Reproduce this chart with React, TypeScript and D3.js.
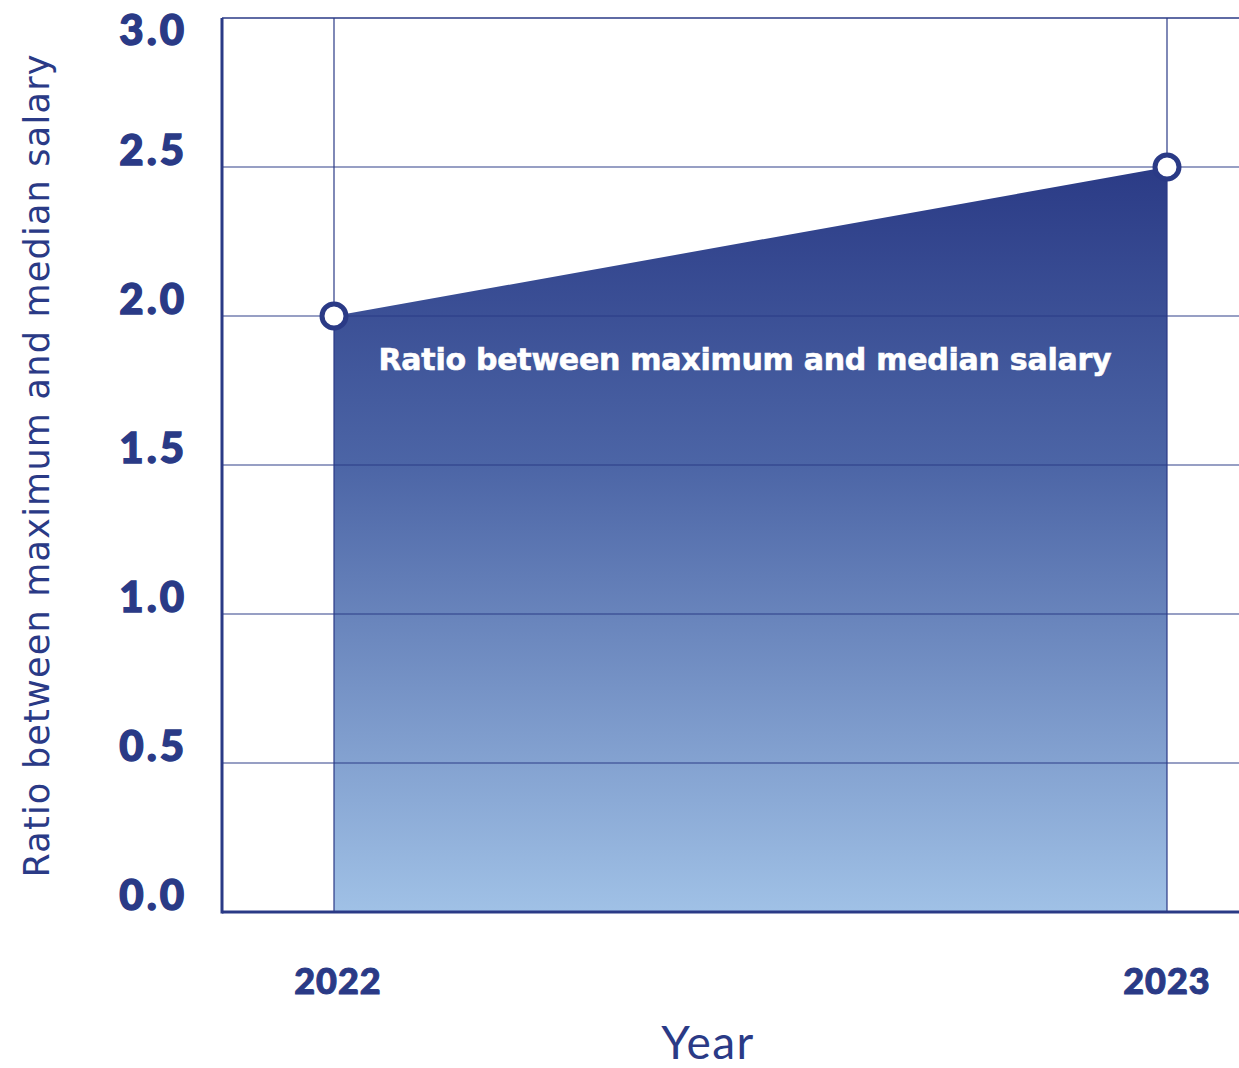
import React from "react";
import * as d3 from "d3";

const years = ["2022", "2023"];
const ratios = [2.0, 2.5];
const yTicks = [0, 0.5, 1.0, 1.5, 2.0, 2.5, 3.0];
const seriesLabel = "Ratio between maximum and median salary";
const yTitle = "Ratio between maximum and median salary";
const xTitle = "Year";

const W = 1239;
const H = 1068;
const NAVY = "#2a3a86";
const FONT = "'Lato', 'DejaVu Sans', sans-serif";
const WIDE = "'DejaVu Sans', sans-serif";

export default function App() {
  const left = 222, right = 1239, top = 18, bottom = 912;
  const y = d3.scaleLinear().domain([0, 3]).range([bottom, top]);
  const x = d3.scalePoint<string>().domain(years).range([334, 1167]);
  const data = years.map((yr, i) => ({ yr, v: ratios[i] }));
  const area = d3
    .area<{ yr: string; v: number }>()
    .x((d) => x(d.yr) as number)
    .y0(y(0))
    .y1((d) => y(d.v));

  return (
    <svg
      width={W}
      height={H}
      style={{ position: "absolute", left: 0, top: 0 }}
    >
      <defs>
        <linearGradient id="g" x1="0" y1={y(2.5)} x2="0" y2={y(0)} gradientUnits="userSpaceOnUse">
          <stop offset="0%" stopColor="#2b3b86" />
          <stop offset="40%" stopColor="#4c65a6" />
          <stop offset="100%" stopColor="#a0c1e6" />
        </linearGradient>
      </defs>
      <rect x={0} y={0} width={W} height={H} fill="#fff" />
      <path d={area(data) || ""} fill="url(#g)" />
      {yTicks.map((t) => (
        <line
          key={"h" + t}
          x1={left}
          x2={right}
          y1={y(t)}
          y2={y(t)}
          stroke={NAVY}
          strokeOpacity={t === 3 ? 1 : 0.65}
          strokeWidth={1.5}
        />
      ))}
      {years.map((yr) => (
        <line
          key={"v" + yr}
          x1={x(yr)}
          x2={x(yr)}
          y1={top}
          y2={bottom}
          stroke={NAVY}
          strokeWidth={1.2}
        />
      ))}
      <line x1={left} x2={left} y1={top} y2={bottom + 1.5} stroke={NAVY} strokeWidth={3} />
      <line x1={left} x2={right} y1={bottom} y2={bottom} stroke={NAVY} strokeWidth={3} />
      {yTicks.map((t) => (
        <text
          key={"yt" + t}
          x={187}
          y={t === 3 ? y(t) + 27 : y(t) - 2}
          textAnchor="end"
          fontFamily={FONT}
          fontWeight={900}
          fontSize={42}
          letterSpacing={3}
          fill={NAVY}
          stroke={NAVY}
          strokeWidth={1.4}
        >
          {t.toFixed(1)}
        </text>
      ))}
      {years.map((yr, i) => (
        <text
          key={"xt" + yr}
          x={(x(yr) as number) + (i === 0 ? 4 : 0)}
          y={994}
          textAnchor="middle"
          fontFamily={FONT}
          fontWeight={900}
          fontSize={36}
          letterSpacing={1}
          fill={NAVY}
          stroke={NAVY}
          strokeWidth={1}
        >
          {yr}
        </text>
      ))}
      <text
        x={745}
        y={370}
        textAnchor="middle"
        fontFamily={WIDE}
        fontWeight="bold"
        fontSize={30}
        textLength={733}
        lengthAdjust="spacing"
        fill="#fff"
        stroke="#fff"
        strokeWidth={0.6}
      >
        {seriesLabel}
      </text>
      {data.map((d) => (
        <circle
          key={"c" + d.yr}
          cx={x(d.yr)}
          cy={y(d.v)}
          r={12}
          fill="#fff"
          stroke={NAVY}
          strokeWidth={5}
        />
      ))}
      <text
        transform={`translate(49,466) rotate(-90)`}
        textAnchor="middle"
        fontFamily={WIDE}
        fontSize={35}
        textLength={823}
        lengthAdjust="spacing"
        fill={NAVY}
      >
        {yTitle}
      </text>
      <text
        x={708}
        y={1059}
        textAnchor="middle"
        fontFamily={FONT}
        fontSize={46}
        letterSpacing={1.5}
        fill={NAVY}
      >
        {xTitle}
      </text>
    </svg>
  );
}
